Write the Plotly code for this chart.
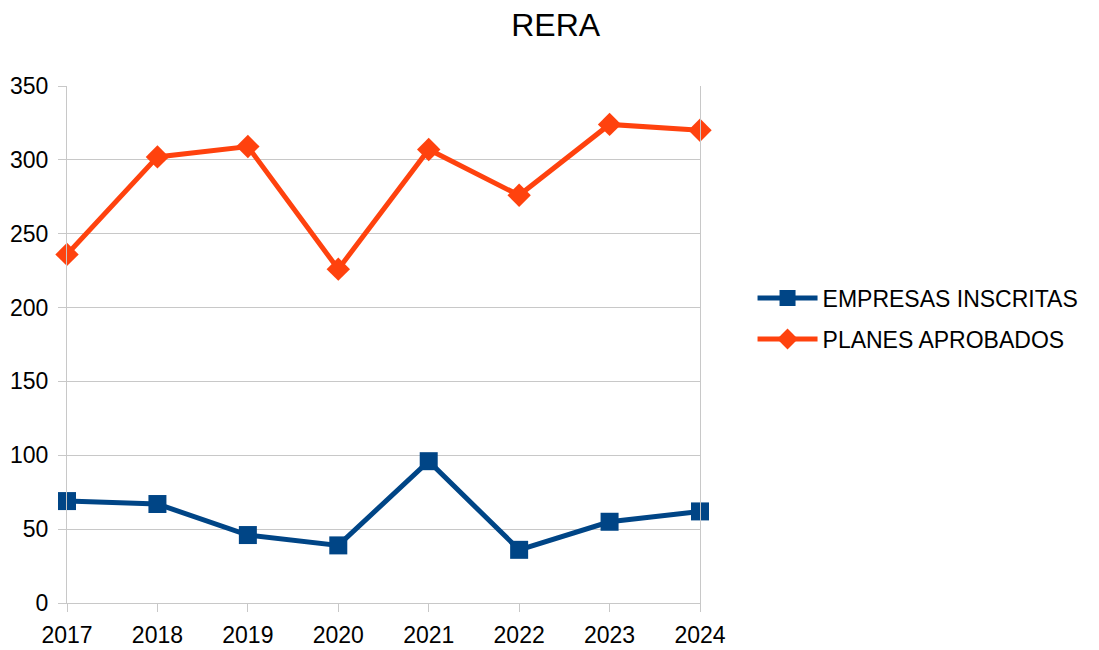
import plotly.graph_objects as go

years = ["2017", "2018", "2019", "2020", "2021", "2022", "2023", "2024"]
empresas_inscritas = [69, 67, 46, 39, 96, 36, 55, 62]
planes_aprobados = [236, 302, 309, 226, 307, 276, 324, 320]
y_ticks = [0, 50, 100, 150, 200, 250, 300, 350]

BLUE = '#004586'
ORANGE = '#ff420e'
GRID = '#c8c8c8'
FONT = 'Liberation Sans, Arial, sans-serif'

fig = go.Figure()
fig.add_trace(go.Scatter(
    x=years, y=empresas_inscritas, name="EMPRESAS INSCRITAS",
    mode='lines+markers', legendgroup='a', cliponaxis=False,
    line=dict(color=BLUE, width=5),
    marker=dict(symbol='square', size=18, color=BLUE),
))
fig.add_trace(go.Scatter(
    x=years, y=planes_aprobados, name="PLANES APROBADOS",
    mode='lines+markers', legendgroup='b', cliponaxis=False,
    line=dict(color=ORANGE, width=5),
    marker=dict(symbol='diamond', size=18, color=ORANGE),
))

# the page body has an 8px margin, so the figure is drawn 8px in from the corner
fig.update_layout(
    width=1091, height=642,
    paper_bgcolor='white', plot_bgcolor='white',
    font=dict(family=FONT, size=22, color='black'),
    title=dict(text="RERA", x=0.502, xanchor='center', y=0.974, yanchor='middle',
               font=dict(size=32)),
    margin=dict(l=59, r=399, t=78, b=47),
    showlegend=True,
    legend=dict(x=1.083, y=0.55, xanchor='left', yanchor='middle',
                traceorder='grouped', tracegroupgap=8,
                font=dict(size=23), itemwidth=60),
    xaxis=dict(
        type='category', range=[0, 7], showgrid=False, automargin=False,
        showline=True, linecolor=GRID, linewidth=1,
        ticks='outside', ticklen=8, tickcolor=GRID, ticklabelstandoff=3,
        tickfont=dict(size=23), fixedrange=True,
    ),
    yaxis=dict(
        range=[0, 350], tickvals=y_ticks, automargin=False,
        showgrid=True, gridcolor=GRID, gridwidth=1,
        showline=True, linecolor=GRID, linewidth=1, mirror=True,
        ticks='outside', ticklen=8, tickcolor=GRID, ticklabelstandoff=5,
        zeroline=False, tickfont=dict(size=23),
    ),
)

fig.write_html("out.html")
